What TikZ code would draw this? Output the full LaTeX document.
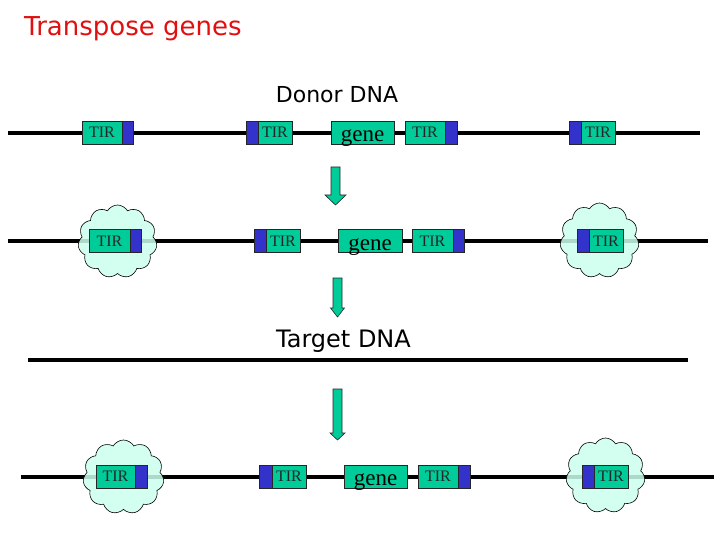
\documentclass[tikz,border=0pt]{standalone}
\usepackage{fontspec}
\setmainfont{Liberation Serif}
\newfontfamily\comic{DejaVu Sans}
\usetikzlibrary{shapes.symbols}
\definecolor{tgreen}{RGB}{0,204,153}
\definecolor{tblue}{RGB}{51,51,204}
\definecolor{cloudc}{RGB}{204,255,238}
\definecolor{tred}{RGB}{225,15,15}
\tikzset{
  dna/.style={line width=4.2pt, black},
  gbox/.style={rectangle, draw=black!85, line width=0.6pt, fill=tgreen, minimum height=23pt, inner sep=0pt, font=\fontsize{16}{16}\selectfont, text=black!85},
  bbox/.style={rectangle, draw=black!85, line width=0.6pt, fill=tblue, minimum height=23pt, inner sep=0pt},
  genebox/.style={gbox, font=\fontsize{23}{23}\selectfont, text height=18pt, text depth=0pt, text=black},
  puff/.style={cloud, cloud puffs=11, cloud puff arc=120, draw=black, line width=0.6pt, fill=cloudc, fill opacity=0.85, inner sep=0pt},
  barrow/.style={fill=tgreen, draw=black!85, line width=0.6pt},
  lbl/.style={font=\comic\fontsize{22}{22}\selectfont, inner sep=0pt}
}
\newcommand{\blockarrow}[5]{% x, top, headstart, tip, headhalf
  \draw[barrow] ({#1-4.5},#2) -- ({#1+4.5},#2) -- ({#1+4.5},#3) -- ({#1+#5},#3) -- (#1,#4) -- ({#1-#5},#3) -- ({#1-4.5},#3) -- cycle;}
\begin{document}
\begin{tikzpicture}[x=1pt,y=-1pt]
\useasboundingbox (0,0) rectangle (720,540);
\fill[white] (0,0) rectangle (720,540);

% title and labels
\node[anchor=west, inner sep=0pt, text=tred, font=\comic\fontsize{26}{26}\selectfont] (title) at (24,29) {Transpose genes};
\node[lbl] (donor) at (337,95) {Donor DNA};
\node[lbl, font=\comic\fontsize{24}{24}\selectfont] (target) at (343.5,341) {Target DNA};

% ---------- Row 1 ----------
\coordinate (r1a) at (8,133);
\coordinate (r1b) at (700,133);
\draw[dna] (r1a) -- (r1b);
\node[gbox, minimum width=40pt] (a1g) at (102,132.5) {TIR};
\node[bbox, minimum width=11pt] (a1b) at (127.5,132.5) {};
\node[bbox, minimum width=12pt] (a2b) at (252,132.5) {};
\node[gbox, minimum width=34pt] (a2g) at (275,132.5) {TIR};
\node[genebox, minimum width=63pt] (agene) at (362.5,132.5) {gene};
\node[gbox, minimum width=40pt] (a3g) at (425,132.5) {TIR};
\node[bbox, minimum width=12pt] (a3b) at (451,132.5) {};
\node[bbox, minimum width=12pt] (a4b) at (575,132.5) {};
\node[gbox, minimum width=34pt] (a4g) at (598,132.5) {TIR};

\blockarrow{335.5}{167}{195}{205}{10.5}

% ---------- Row 2 ----------
\coordinate (r2a) at (8,241);
\coordinate (r2b) at (708,241);
\draw[dna] (r2a) -- (r2b);
\node[puff, minimum width=79pt, minimum height=73pt] (c21) at (117.5,241.5) {};
\node[puff, minimum width=79pt, minimum height=75pt] (c24) at (599.5,240.5) {};
\node[gbox, minimum width=41pt] (b1g) at (109.5,241) {TIR};
\node[bbox, minimum width=11pt] (b1b) at (135.5,241) {};
\node[bbox, minimum width=12pt] (b2b) at (260,241) {};
\node[gbox, minimum width=34pt] (b2g) at (283,241) {TIR};
\node[genebox, minimum width=64pt] (bgene) at (370,241) {gene};
\node[gbox, minimum width=41pt] (b3g) at (432.5,241) {TIR};
\node[bbox, minimum width=11pt] (b3b) at (458.5,241) {};
\node[bbox, minimum width=12pt] (b4b) at (583,241) {};
\node[gbox, minimum width=34pt] (b4g) at (606,241) {TIR};

\blockarrow{337.5}{278}{308}{317}{7}

% ---------- Target DNA ----------
\coordinate (tga) at (28,360);
\coordinate (tgb) at (688,360);
\draw[dna] (tga) -- (tgb);

\blockarrow{337.5}{389}{433}{440}{7.5}

% ---------- Row 3 ----------
\coordinate (r3a) at (21,477);
\coordinate (r3b) at (714,477);
\draw[dna] (r3a) -- (r3b);
\node[puff, minimum width=81pt, minimum height=74pt] (c31) at (123.5,477) {};
\node[puff, minimum width=79pt, minimum height=75pt] (c34) at (605.5,475.5) {};
\node[gbox, minimum width=39pt] (c1g) at (115.5,476.5) {TIR};
\node[bbox, minimum width=12pt] (c1b) at (141,476.5) {};
\node[bbox, minimum width=13pt] (c2b) at (265.5,476.5) {};
\node[gbox, minimum width=34pt] (c2g) at (289,476.5) {TIR};
\node[genebox, minimum width=63pt] (cgene) at (375.5,476.5) {gene};
\node[gbox, minimum width=40pt] (c3g) at (438,476.5) {TIR};
\node[bbox, minimum width=12pt] (c3b) at (464,476.5) {};
\node[bbox, minimum width=12pt] (c4b) at (588,476.5) {};
\node[gbox, minimum width=34pt] (c4g) at (611,476.5) {TIR};
\end{tikzpicture}
\end{document}
